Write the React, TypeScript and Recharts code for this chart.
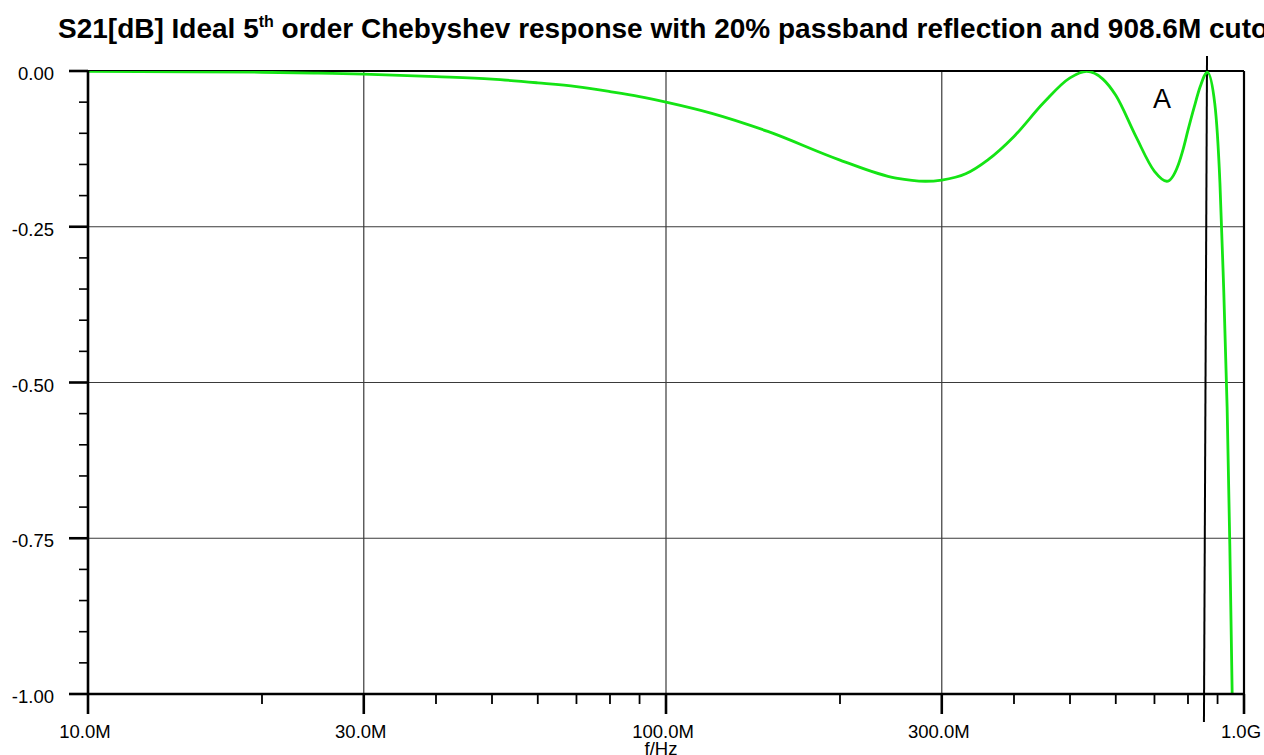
import { LineChart, Line, XAxis, YAxis, ReferenceLine } from "recharts"

// frequency in MHz, S21 in dB
const freqMHz = [
  10, 15, 20, 25, 30, 40, 50, 60, 70, 80, 90, 100, 120, 150, 200, 250, 281, 300, 330, 360,
  400, 450, 500, 534, 570, 600, 650, 700, 735, 770, 785, 800, 820, 840, 864, 890, 908.6, 920,
  935, 945, 954,
]
const s21dB = [
  -0.0005, -0.0012, -0.002, -0.0035, -0.005, -0.009, -0.013, -0.019, -0.025, -0.033, -0.041,
  -0.05, -0.068, -0.097, -0.143, -0.172, -0.177, -0.175, -0.165, -0.143, -0.105, -0.051, -0.011,
  -0.0005, -0.013, -0.039, -0.105, -0.161, -0.177, -0.15, -0.125, -0.095, -0.058, -0.025, -0.002,
  -0.052, -0.18, -0.32, -0.54, -0.76, -1.0,
]

const xTicks = [10, 20, 30, 40, 50, 60, 70, 80, 90, 100, 200, 300, 400, 500, 600, 700, 800, 900, 1000]
const xMajor = [10, 30, 100, 300, 1000]
const xTickLabels = ["10.0M", "30.0M", "100.0M", "300.0M", "1.0G"]
const xGrid = [30, 100, 300]

const yTicks = [
  0, -0.05, -0.1, -0.15, -0.2, -0.25, -0.3, -0.35, -0.4, -0.45, -0.5, -0.55, -0.6, -0.65, -0.7,
  -0.75, -0.8, -0.85, -0.9, -0.95, -1,
]
const yMajor = [0, -0.25, -0.5, -0.75, -1]
const yTickLabels = ["0.00", "-0.25", "-0.50", "-0.75", "-1.00"]
const yGrid = [-0.25, -0.5, -0.75]

// marker "A" (slightly slanted vertical line)
const markerTop = { x: 863, y: 0.024 }
const markerBottom = { x: 852.5, y: -1.045 }

const data = freqMHz.map((f, i) => ({ f, db: s21dB[i] }))

const FONT = "Arial, 'Liberation Sans', Helvetica, sans-serif"

function XTick({ x, y, payload }: any) {
  const i = xMajor.indexOf(payload.value)
  const major = i >= 0
  return (
    <g>
      <line x1={x} x2={x} y1={y} y2={y + (major ? 20 : 10)} stroke="#000" strokeWidth={major ? 2.6 : 1.8} />
      {major && (
        <text x={x - 3} y={y + 44} textAnchor="middle" fontSize={18.5} fontFamily={FONT} fill="#000">
          {xTickLabels[i]}
        </text>
      )}
    </g>
  )
}

function YTick({ x, y, payload }: any) {
  const i = yMajor.findIndex((v) => Math.abs(v - payload.value) < 1e-6)
  const major = i >= 0
  return (
    <g>
      <line x1={x - (major ? 19 : 9)} x2={x} y1={y} y2={y} stroke="#000" strokeWidth={major ? 2.6 : 1.6} />
      {major && (
        <text x={x - 34} y={y + 9} textAnchor="end" fontSize={18.5} fontFamily={FONT} fill="#000">
          {yTickLabels[i]}
        </text>
      )}
    </g>
  )
}

export default function App() {
  return (
    <div style={{ position: "absolute", left: 0, top: 0, width: 1264, height: 755, overflow: "hidden", background: "#fff" }}>
      <LineChart width={1264} height={755} data={data} margin={{ top: 71, right: 20, bottom: 0, left: 0 }}>
        <XAxis
          dataKey="f"
          type="number"
          scale="log"
          domain={[10, 1000]}
          allowDataOverflow
          ticks={xTicks}
          interval={0}
          tick={<XTick />}
          tickLine={false}
          tickSize={0}
          tickMargin={0}
          height={61}
          axisLine={{ stroke: "#000", strokeWidth: 2.6 }}
        />
        <YAxis
          type="number"
          domain={[-1, 0]}
          allowDataOverflow
          ticks={yTicks}
          interval={0}
          tick={<YTick />}
          tickLine={false}
          tickSize={0}
          tickMargin={0}
          width={88}
          axisLine={{ stroke: "#000", strokeWidth: 2.6 }}
        />
        {xGrid.map((v) => (
          <ReferenceLine key={`xg-${v}`} x={v} stroke="#3a3a3a" strokeWidth={1.2} />
        ))}
        {yGrid.map((v) => (
          <ReferenceLine key={`yg-${v}`} y={v} stroke="#3a3a3a" strokeWidth={1.2} />
        ))}
        <ReferenceLine y={0} stroke="#000" strokeWidth={2.2} />
        <ReferenceLine x={1000} stroke="#000" strokeWidth={2.2} />
        <ReferenceLine segment={[markerTop, markerBottom]} ifOverflow="visible" stroke="#000" strokeWidth={2} />
        <Line
          type="monotone"
          dataKey="db"
          stroke="#14e414"
          strokeWidth={2.8}
          dot={false}
          isAnimationActive={false}
        />
      </LineChart>
      <svg
        width={1264}
        height={755}
        style={{ position: "absolute", left: 0, top: 0, pointerEvents: "none" }}
      >
        <text x={58} y={38} fontSize={28} fontWeight="bold" fontFamily={FONT} fill="#000">
          S21[dB] Ideal 5
          <tspan fontSize={16} dy={-11}>th</tspan>
          <tspan dy={11}> order Chebyshev response with 20% passband reflection and 908.6M cutoff</tspan>
        </text>
        <text x={1162} y={108} textAnchor="middle" fontSize={27} fontFamily={FONT} fill="#000">
          A
        </text>
        <text x={661} y={755} textAnchor="middle" fontSize={18.5} fontFamily={FONT} fill="#000">
          f/Hz
        </text>
      </svg>
    </div>
  )
}
